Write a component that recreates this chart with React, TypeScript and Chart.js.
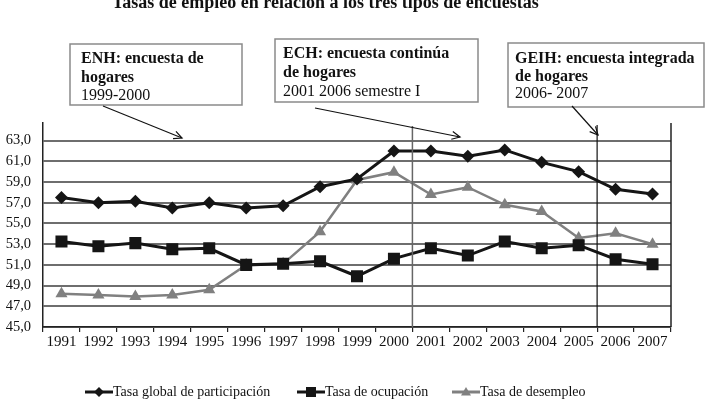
import React, { useEffect, useRef } from "react";
import { Chart, registerables } from "chart.js";

Chart.register(...registerables);

const years = ["1991","1992","1993","1994","1995","1996","1997","1998","1999","2000","2001","2002","2003","2004","2005","2006","2007"];
const participacion = [57.5,57.0,57.15,56.5,57.0,56.5,56.7,58.55,59.3,62.0,62.0,61.5,62.1,60.9,60.0,58.3,57.85];
const ocupacion = [53.25,52.8,53.1,52.5,52.6,51.0,51.1,51.35,49.9,51.6,52.6,51.9,53.25,52.6,52.9,51.55,51.05];
const desempleo = [48.2,48.1,47.95,48.1,48.6,51.0,51.1,54.2,59.2,59.95,57.8,58.5,56.8,56.15,53.6,54.05,53.0];
const yTicks = [45,47,49,51,53,55,57,59,61,63];
const seriesNames = ["Tasa global de participación","Tasa de ocupación","Tasa de desempleo"];
const title = "Tasas de empleo en relación a los tres tipos de encuestas";
const boxes = [
  { lines: [["ENH: encuesta de", true], ["hogares", true], ["1999-2000", false]] },
  { lines: [["ECH: encuesta continúa", true], ["de hogares", true], ["2001 2006 semestre I", false]] },
  { lines: [["GEIH: encuesta integrada", true], ["de hogares", true], ["2006- 2007", false]] },
];

const SERIF = "'Liberation Serif', 'Times New Roman', serif";

export default function App() {
  const ref = useRef<HTMLCanvasElement | null>(null);
  useEffect(() => {
    document.body.style.margin = "0";
    const canvas = ref.current!;
    const boxGeom = [
      { x: 70, y: 44, w: 172, h: 61, tx: 81, ty: [59, 78, 96], arrow: [103, 106, 182, 138] },
      { x: 275, y: 39, w: 203, h: 63, tx: 283, ty: [54, 73, 92], arrow: [315, 108, 460, 137] },
      { x: 508, y: 43, w: 196, h: 64, tx: 515, ty: [59, 77, 94], arrow: [572, 106, 598, 135] },
    ];
    const overlay = {
      id: "overlay",
      afterDraw(chart: any) {
        const ctx = chart.ctx as CanvasRenderingContext2D;
        const xs = chart.scales.x;
        const area = chart.chartArea;
        ctx.save();
        // title
        ctx.fillStyle = "#111";
        ctx.font = `bold 18px ${SERIF}`;
        ctx.textAlign = "left";
        ctx.textBaseline = "alphabetic";
        ctx.fillText(title, 112, 8);
        // right border
        ctx.strokeStyle = "#222";
        ctx.lineWidth = 1.5;
        ctx.beginPath();
        ctx.moveTo(area.right, area.top);
        ctx.lineTo(area.right, area.bottom);
        ctx.stroke();
        // dividers
        const b1 = (xs.getPixelForValue(9) + xs.getPixelForValue(10)) / 2;
        const b2 = (xs.getPixelForValue(14) + xs.getPixelForValue(15)) / 2;
        ctx.strokeStyle = "#666";
        ctx.lineWidth = 1.5;
        ctx.beginPath();
        ctx.moveTo(b1, area.top + 3);
        ctx.lineTo(b1, area.bottom);
        ctx.stroke();
        ctx.strokeStyle = "#111";
        ctx.lineWidth = 1.2;
        ctx.beginPath();
        ctx.moveTo(b2, area.top + 2);
        ctx.lineTo(b2, area.bottom);
        ctx.stroke();
        // boxes
        boxes.forEach((b, i) => {
          const g = boxGeom[i];
          ctx.fillStyle = "#fff";
          ctx.fillRect(g.x, g.y, g.w, g.h);
          ctx.strokeStyle = "#8a8a8a";
          ctx.lineWidth = 1.5;
          ctx.strokeRect(g.x, g.y, g.w, g.h);
          ctx.fillStyle = "#111";
          ctx.textBaseline = "middle";
          b.lines.forEach((ln, j) => {
            ctx.font = `${ln[1] ? "bold " : ""}16px ${SERIF}`;
            ctx.fillText(ln[0] as string, g.tx, g.ty[j]);
          });
          // arrow
          const [x1, y1, x2, y2] = g.arrow;
          ctx.strokeStyle = "#111";
          ctx.lineWidth = 1.2;
          ctx.beginPath();
          ctx.moveTo(x1, y1);
          ctx.lineTo(x2, y2);
          ctx.stroke();
          const ang = Math.atan2(y2 - y1, x2 - x1);
          const L = 9;
          ctx.beginPath();
          ctx.moveTo(x2 - L * Math.cos(ang - 0.45), y2 - L * Math.sin(ang - 0.45));
          ctx.lineTo(x2, y2);
          ctx.lineTo(x2 - L * Math.cos(ang + 0.45), y2 - L * Math.sin(ang + 0.45));
          ctx.stroke();
        });
        // legend
        const legX = [85, 297, 452];
        const ly = 392;
        chart.data.datasets.forEach((ds: any, i: number) => {
          const x0 = legX[i];
          ctx.strokeStyle = ds.borderColor;
          ctx.lineWidth = 3;
          ctx.beginPath();
          ctx.moveTo(x0, ly);
          ctx.lineTo(x0 + 28, ly);
          ctx.stroke();
          ctx.fillStyle = ds.backgroundColor;
          const r = 5;
          ctx.beginPath();
          const cx = x0 + 14;
          if (ds.pointStyle === "rectRot") {
            ctx.moveTo(cx, ly - r); ctx.lineTo(cx + r, ly); ctx.lineTo(cx, ly + r); ctx.lineTo(cx - r, ly);
          } else if (ds.pointStyle === "rect") {
            ctx.rect(cx - r, ly - r, r * 2, r * 2);
          } else {
            ctx.moveTo(cx, ly - r); ctx.lineTo(cx + r, ly + r * 0.7); ctx.lineTo(cx - r, ly + r * 0.7);
          }
          ctx.closePath();
          ctx.fill();
          ctx.fillStyle = "#111";
          ctx.font = `14px ${SERIF}`;
          ctx.textAlign = "left";
          ctx.textBaseline = "middle";
          ctx.fillText(ds.label, x0 + 28, ly);
        });
        ctx.restore();
      },
    };
    const chart = new Chart(canvas, {
      type: "line",
      data: {
        labels: years,
        datasets: [
          { label: seriesNames[0], data: participacion, borderColor: "#151515", backgroundColor: "#151515", borderWidth: 3, pointStyle: "rectRot", pointRadius: 6.5, pointBorderWidth: 0, tension: 0 },
          { label: seriesNames[1], data: ocupacion, borderColor: "#151515", backgroundColor: "#151515", borderWidth: 3, pointStyle: "rect", pointRadius: 8.5, pointBorderWidth: 0, tension: 0 },
          { label: seriesNames[2], data: desempleo, borderColor: "#808080", backgroundColor: "#808080", borderWidth: 2.5, pointStyle: "triangle", pointRadius: 7, pointBorderWidth: 0, tension: 0 },
        ] as any,
      },
      options: {
        animation: false,
        responsive: false,
        maintainAspectRatio: false,
        layout: { padding: { left: 0, right: 50, top: 123, bottom: 0 } },
        plugins: { legend: { display: false }, tooltip: { enabled: false }, title: { display: false } },
        scales: {
          x: {
            type: "category",
            offset: true,
            grid: { offset: true, drawOnChartArea: false, drawTicks: true, tickLength: 5, color: "#222", lineWidth: 1.2 },
            border: { display: true, color: "#222", width: 1.5 },
            ticks: { color: "#111", font: { family: SERIF, size: 15 }, padding: 1, maxRotation: 0, autoSkip: false },
            afterFit: (s: any) => { s.height = 91; },
          },
          y: {
            min: 45,
            max: 64.7,
            afterBuildTicks: (s: any) => { s.ticks = yTicks.map((v) => ({ value: v })); },
            grid: { drawTicks: false, color: "#6e6e6e", lineWidth: 2 },
            border: { display: true, color: "#222", width: 1.5 },
            ticks: { color: "#111", font: { family: SERIF, size: 14.5 }, padding: 12, callback: (v: any) => Number(v).toFixed(1).replace(".", ",") },
            afterFit: (s: any) => { s.width = 43; },
          },
        },
      } as any,
      plugins: [overlay],
    });
    return () => chart.destroy();
  }, []);
  return <canvas ref={ref} width={721} height={418} style={{ display: "block" }} />;
}
